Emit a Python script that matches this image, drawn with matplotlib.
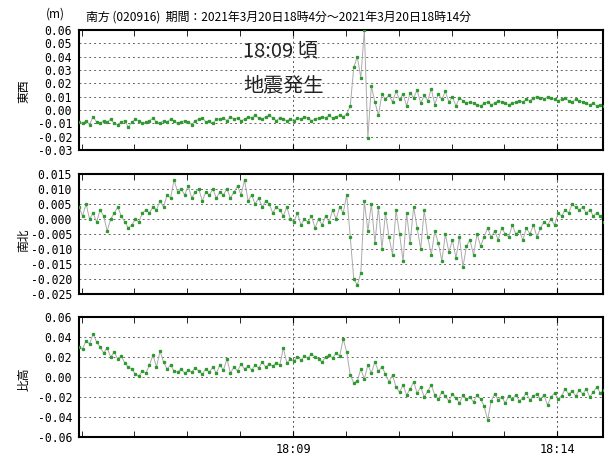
import numpy as np
import matplotlib
matplotlib.use('Agg')
import matplotlib.pyplot as plt
from matplotlib.ticker import MultipleLocator

plt.rcParams['font.family'] = ['Noto Sans CJK JP', 'DejaVu Sans']
plt.rcParams['axes.unicode_minus'] = False

# sampling: seconds after 18:00:00, one value every 4 s
t_start = 297
t_step = 4

# 東西 (m)
ew = [-0.009, -0.010, -0.008, -0.011, -0.005, -0.009, -0.010, -0.008, -0.009, -0.007,
      -0.010, -0.011, -0.009, -0.008, -0.013, -0.009, -0.007, -0.008, -0.010, -0.009,
      -0.008, -0.006, -0.009, -0.010, -0.008, -0.009, -0.007, -0.008, -0.010, -0.009,
      -0.008, -0.009, -0.011, -0.008, -0.007, -0.006, -0.009, -0.008, -0.010, -0.007,
      -0.007, -0.006, -0.008, -0.005, -0.007, -0.006, -0.008, -0.007, -0.005, -0.006,
      -0.004, -0.006, -0.007, -0.005, -0.004, -0.006, -0.008, -0.006, -0.007, -0.008,
      -0.007, -0.008, -0.006, -0.007, -0.005, -0.006, -0.008, -0.007, -0.006, -0.005,
      -0.006, -0.004, -0.006, -0.005, -0.004, -0.005, -0.003,
      0.003, 0.032, 0.040, 0.024, 0.060, -0.021, 0.018, 0.006, -0.004, 0.012, 0.008,
      0.011, 0.006, 0.014, 0.008, 0.012, 0.003, 0.013, 0.009, 0.015, 0.005,
      0.011, 0.007, 0.016, 0.004, 0.012, 0.008, 0.014, 0.006, 0.010, 0.003,
      0.009, 0.007, 0.005,
      0.006, 0.005, 0.004, 0.003, 0.005, 0.006, 0.004, 0.005, 0.007, 0.006,
      0.005, 0.004, 0.005, 0.006, 0.007, 0.006, 0.008, 0.007, 0.009, 0.010,
      0.009, 0.008, 0.010, 0.009, 0.008, 0.007, 0.008, 0.009, 0.007, 0.006,
      0.008, 0.007, 0.006, 0.005, 0.004, 0.005, 0.003, 0.004, 0.003]

# 南北 (m)
ns = [0.004, 0.001, 0.005, 0.000, 0.002, -0.001, 0.003, 0.001, -0.004, 0.000,
      0.002, 0.004, 0.001, -0.001, -0.003, -0.002, 0.000, -0.001, 0.002, 0.003,
      0.002, 0.004, 0.003, 0.006, 0.004, 0.008, 0.007, 0.013, 0.009, 0.010,
      0.008, 0.011, 0.007, 0.009, 0.010, 0.006, 0.009, 0.008, 0.010, 0.007,
      0.009, 0.008, 0.010, 0.007, 0.009, 0.011, 0.008, 0.013, 0.006, 0.008,
      0.005, 0.007, 0.004, 0.006, 0.005, 0.002, 0.004, 0.003, 0.001, 0.004,
      0.000, -0.001, 0.002, -0.002, 0.000, -0.001, 0.001, -0.003, 0.000, -0.002,
      0.001, -0.001, 0.003, 0.000, 0.004, 0.002, 0.008,
      -0.006, -0.020, -0.022, -0.018, 0.006, -0.004, 0.005, -0.008, 0.004, -0.010, 0.002,
      -0.006, -0.012, 0.003, -0.005, -0.014, 0.002, -0.008, 0.004, -0.003, -0.010,
      0.003, -0.006, -0.012, -0.004, -0.008, -0.014, -0.005, -0.011, -0.007, -0.013,
      -0.006, -0.016, -0.009,
      -0.007, -0.012, -0.005, -0.009, -0.006, -0.003, -0.006, -0.004, -0.007, -0.003,
      -0.005, -0.006, -0.002, -0.005, -0.004, -0.007, -0.003, -0.005, -0.002, -0.006,
      -0.003, -0.001, -0.002, 0.000, -0.002, 0.002, 0.001, 0.003, 0.002, 0.005,
      0.004, 0.003, 0.004, 0.002, 0.003, 0.001, 0.002, 0.001, -0.001]

# 比高 (m)
ud = [0.030, 0.028, 0.036, 0.033, 0.043, 0.035, 0.030, 0.024, 0.029, 0.020,
      0.025, 0.018, 0.021, 0.014, 0.010, 0.008, 0.003, 0.001, 0.006, 0.004,
      0.012, 0.022, 0.010, 0.026, 0.015, 0.008, 0.012, 0.006, 0.005, 0.008,
      0.004, 0.007, 0.005, 0.009, 0.006, 0.003, 0.008, 0.005, 0.010, 0.004,
      0.012, 0.007, 0.018, 0.004, 0.010, 0.006, 0.013, 0.008, 0.011, 0.007,
      0.012, 0.009, 0.015, 0.010, 0.013, 0.011, 0.014, 0.012, 0.029, 0.014,
      0.018, 0.016, 0.020, 0.017, 0.021, 0.019, 0.023, 0.020, 0.018, 0.015,
      0.020, 0.022, 0.019, 0.024, 0.021, 0.038, 0.025,
      0.002, -0.006, -0.004, 0.008, -0.002, 0.012, 0.004, 0.015, 0.006, 0.010, 0.003,
      -0.005, 0.002, -0.010, -0.015, -0.008, -0.018, -0.012, -0.005, -0.016, -0.010,
      -0.020, -0.014, -0.008, -0.018, -0.022, -0.015, -0.019, -0.024, -0.017, -0.021,
      -0.026, -0.018, -0.022,
      -0.020, -0.025, -0.018, -0.022, -0.029, -0.043, -0.024, -0.017, -0.023, -0.020,
      -0.026, -0.019, -0.022, -0.018, -0.024, -0.021, -0.016, -0.023, -0.019, -0.017,
      -0.022, -0.018, -0.028, -0.020, -0.016, -0.022, -0.019, -0.012, -0.017, -0.014,
      -0.019, -0.013, -0.017, -0.012, -0.020, -0.015, -0.010, -0.016, -0.013]

names = ['東西', '南北', '比高']
series = [ew, ns, ud]
ylims = [(-0.03, 0.06), (-0.025, 0.015), (-0.06, 0.06)]
ysteps = [0.01, 0.005, 0.02]
yfmts = ['%.2f', '%.3f', '%.2f']
xticks = [540, 840]
xlabels = ['18:09', '18:14']

W, H = 606, 455
fig = plt.figure(figsize=(W / 100, H / 100), dpi=100)

tops = [30, 174, 317]   # panel top edges in pixels
for k in range(3):
    ax = fig.add_axes([79 / W, 1 - (tops[k] + 120) / H, 524 / W, 120 / H])
    vals = series[k]
    t = t_start + t_step * np.arange(len(vals))
    ax.plot(t, vals, color='#ababab', lw=0.7, zorder=2)
    ax.plot(t, vals, 's', ms=1.4, color='#2f9a2f', mec='#2f9a2f', zorder=3)

    lo, hi = ylims[k]
    ax.set_xlim(297, 892)
    ax.set_ylim(lo, hi)
    n = int(round((hi - lo) / ysteps[k])) + 1
    yt = np.round(np.linspace(lo, hi, n), 3)
    ax.set_yticks(yt, labels=[yfmts[k] % (v + 0.0) for v in yt],
                  fontfamily='DejaVu Sans Mono', fontsize=8.3)
    for y in yt[1:-1]:
        ax.axhline(y, color='#666666', lw=0.7, ls=(0, (2, 3)), zorder=1)
    for x in xticks:
        ax.axvline(x, color='#555555', lw=0.7, ls=(0, (2, 3)), zorder=1)

    if k == 2:
        ax.set_xticks(xticks, labels=xlabels, fontfamily='DejaVu Sans Mono', fontsize=8.5)
    else:
        ax.set_xticks(xticks, labels=[])
    ax.xaxis.set_minor_locator(MultipleLocator(60))
    ax.tick_params(axis='x', which='both', direction='in', top=True, length=4, pad=4)
    ax.tick_params(axis='y', length=0, pad=5)
    for s in ax.spines.values():
        s.set_linewidth(1.5)

# axis names on the left
for name, yc in zip(names, [91, 240, 379]):
    fig.text(24 / W, 1 - yc / H, name, rotation=90, fontsize=8.5,
             ha='center', va='center')

fig.text(55 / W, 1 - 14 / H, '(m)', fontsize=8.5, ha='center', va='center')
fig.text(86 / W, 1 - 17 / H,
         '南方 (020916)  期間：2021年3月20日18時4分～2021年3月20日18時14分',
         fontsize=8.6, ha='left', va='center')

# earthquake note
fig.text(243 / W, 1 - 51 / H, '18:09 頃', fontsize=14.5, color='#222222', va='center')
fig.text(243 / W, 1 - 86 / H, '地震発生', fontsize=14.5, color='#222222', va='center')

fig.savefig('out.png', dpi=100)
